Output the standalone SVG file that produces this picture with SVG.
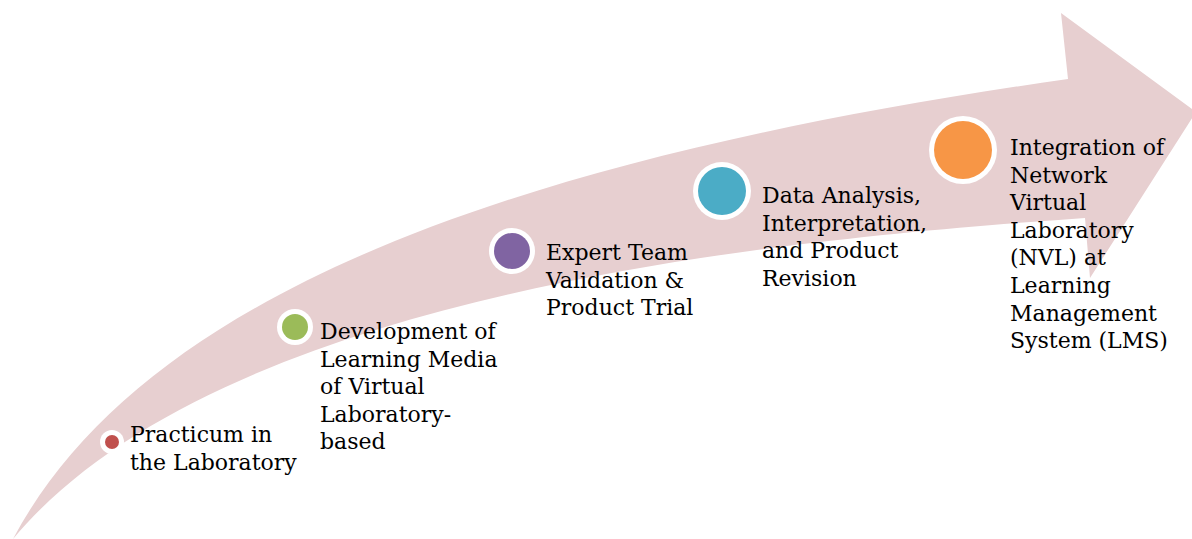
<svg xmlns="http://www.w3.org/2000/svg" width="1192" height="539" viewBox="0 0 1192 539">
<style>
.lbl{font-family:"DejaVu Serif","Liberation Serif",serif;font-size:22px;fill:#000}
.ring{fill:#fff}
</style>
<rect width="1192" height="539" fill="#fff"/>
<g id="connectors">
<path id="arrow" fill="#E7CFD0" d="M13,539 C140,300 497,160 1068,79 L1061,13 L1196,112 L1090,278 L1085,218 C800,238 223,287 13,539 Z"/>
</g>
<g id="step1">
<circle class="ring" cx="112" cy="442" r="12"/>
<circle cx="112" cy="442" r="7" fill="#C0504D"/>
<text class="lbl" x="130" y="442"><tspan x="130">Practicum in</tspan><tspan x="130" dy="28">the Laboratory</tspan></text>
</g>
<g id="step2">
<circle class="ring" cx="295" cy="327" r="18"/>
<circle cx="295" cy="327" r="13" fill="#9BBB59"/>
<text class="lbl" x="320" y="339"><tspan x="320">Development of</tspan><tspan x="320" dy="27.6">Learning Media</tspan><tspan x="320" dy="27.6">of Virtual</tspan><tspan x="320" dy="27.6">Laboratory-</tspan><tspan x="320" dy="27.6">based</tspan></text>
</g>
<g id="step3">
<circle class="ring" cx="512" cy="251" r="23"/>
<circle cx="512" cy="251" r="18" fill="#8064A2"/>
<text class="lbl" x="546" y="260"><tspan x="546">Expert Team</tspan><tspan x="546" dy="27.6">Validation &amp;</tspan><tspan x="546" dy="27.6">Product Trial</tspan></text>
</g>
<g id="step4">
<circle class="ring" cx="722" cy="191" r="29"/>
<circle cx="722" cy="191" r="24" fill="#4BACC6"/>
<text class="lbl" x="762" y="203"><tspan x="762">Data Analysis,</tspan><tspan x="762" dy="27.6">Interpretation,</tspan><tspan x="762" dy="27.6">and Product</tspan><tspan x="762" dy="27.6">Revision</tspan></text>
</g>
<g id="step5">
<circle class="ring" cx="963" cy="150" r="34"/>
<circle cx="963" cy="150" r="29" fill="#F79646"/>
<text class="lbl" x="1010" y="155"><tspan x="1010">Integration of</tspan><tspan x="1010" dy="27.6">Network</tspan><tspan x="1010" dy="27.6">Virtual</tspan><tspan x="1010" dy="27.6">Laboratory</tspan><tspan x="1010" dy="27.6">(NVL) at</tspan><tspan x="1010" dy="27.6">Learning</tspan><tspan x="1010" dy="27.6">Management</tspan><tspan x="1010" dy="27.6">System (LMS)</tspan></text>
</g>
</svg>
